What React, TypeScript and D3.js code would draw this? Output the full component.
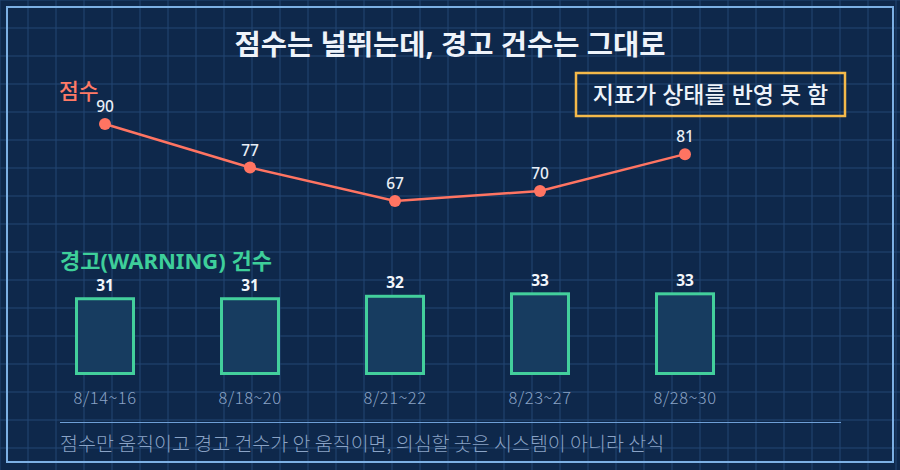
import React from "react";
import * as d3 from "d3";

const categories = ["8/14~16", "8/18~20", "8/21~22", "8/23~27", "8/28~30"];
const scores = [90, 77, 67, 70, 81];
const warnings = [31, 31, 32, 33, 33];
const title = "점수는 널뛰는데, 경고 건수는 그대로";
const scoreLabel = "점수";
const warnLabel = "경고(WARNING) 건수";
const calloutText = "지표가 상태를 반영 못 함";
const footnote = "점수만 움직이고 경고 건수가 안 움직이면, 의심할 곳은 시스템이 아니라 산식";

const W = 900;
const H = 470;
const FONT = "'Noto Sans', 'Noto Sans CJK KR', sans-serif";
const FONT_CJK = "'Noto Sans CJK KR', 'Noto Sans', sans-serif";

export default function App() {
  const x = d3.scalePoint<string>().domain(categories).range([105, 685]);
  const yScore = d3.scaleLinear().domain([60, 100]).range([224.5, 90.5]);
  const yWarn = d3.scaleLinear().domain([0, 40]).range([375, 276.6]);
  const line = d3
    .line<number>()
    .x((_, i) => x(categories[i]) as number)
    .y((d) => yScore(d));

  const gridX = d3.range(0, W + 1, 28);
  const gridY = d3.range(0, H + 1, 28);
  const barW = 57;

  return (
    <svg
      width={W}
      height={H}
      style={{ position: "absolute", left: 0, top: 0, display: "block" }}
      fontFamily={FONT}
    >
      <rect x={0} y={0} width={W} height={H} fill="#0e284b" />
      {gridX.map((gx) => (
        <line key={"gx" + gx} x1={gx} x2={gx} y1={0} y2={H} stroke="#234674" strokeWidth={1} />
      ))}
      {gridY.map((gy) => (
        <line key={"gy" + gy} x1={0} x2={W} y1={gy} y2={gy} stroke="#234674" strokeWidth={1} />
      ))}
      <rect x={7} y={7} width={886} height={455} fill="none" stroke="#7cb0e4" strokeWidth={2} />

      <text x={450} y={55} textAnchor="middle" fontSize={28.5} fontWeight={700} fill="#eef3fa">
        {title}
      </text>

      <text x={59} y={99} fontSize={21.5} fontWeight={500} fill="#ff7a66" fontFamily={FONT_CJK}>
        {scoreLabel}
      </text>

      <rect x={576} y={73} width={269} height={43} fill="none" stroke="#f4b94a" strokeWidth={2.5} />
      <text x={710.5} y={102.5} textAnchor="middle" fontSize={23} fontWeight={500} fill="#eef3fa">
        {calloutText}
      </text>

      <path d={line(scores) || ""} fill="none" stroke="#ff7462" strokeWidth={2.5} />
      {scores.map((v, i) => (
        <g key={"s" + i}>
          <circle cx={x(categories[i])} cy={yScore(v)} r={6} fill="#ff7462" />
          <text
            x={x(categories[i])}
            y={yScore(v) - 12}
            textAnchor="middle"
            fontSize={15.5}
            fontWeight={500}
            fill="#e8eef6"
          >
            {v}
          </text>
        </g>
      ))}

      <text x={60} y={269} fontSize={22} fontWeight={700} fill="#3ecf9a">
        {warnLabel}
      </text>

      {warnings.map((v, i) => {
        const cx = x(categories[i]) as number;
        return (
          <g key={"w" + i}>
            <rect
              x={cx - barW / 2}
              y={yWarn(v)}
              width={barW}
              height={yWarn(0) - yWarn(v) - 1.5}
              fill="#173c60"
              stroke="#43cf9c"
              strokeWidth={3}
            />
            <text x={cx} y={yWarn(v) - 8} textAnchor="middle" fontSize={15.5} fontWeight={700} fill="#f2f6fb">
              {v}
            </text>
            <text
              x={cx}
              y={404}
              textAnchor="middle"
              fontSize={16.5}
              fontWeight={300}
              letterSpacing={0.5}
              fill="#8aa3c6"
              fontFamily={FONT_CJK}
            >
              {categories[i]}
            </text>
          </g>
        );
      })}

      <line x1={60} x2={841} y1={422.5} y2={422.5} stroke="#6e9fd6" strokeWidth={1} />
      <text x={60} y={450.5} fontSize={19.5} fontWeight={300} fill="#8aa3c6" fontFamily={FONT_CJK}>
        {footnote}
      </text>
    </svg>
  );
}
